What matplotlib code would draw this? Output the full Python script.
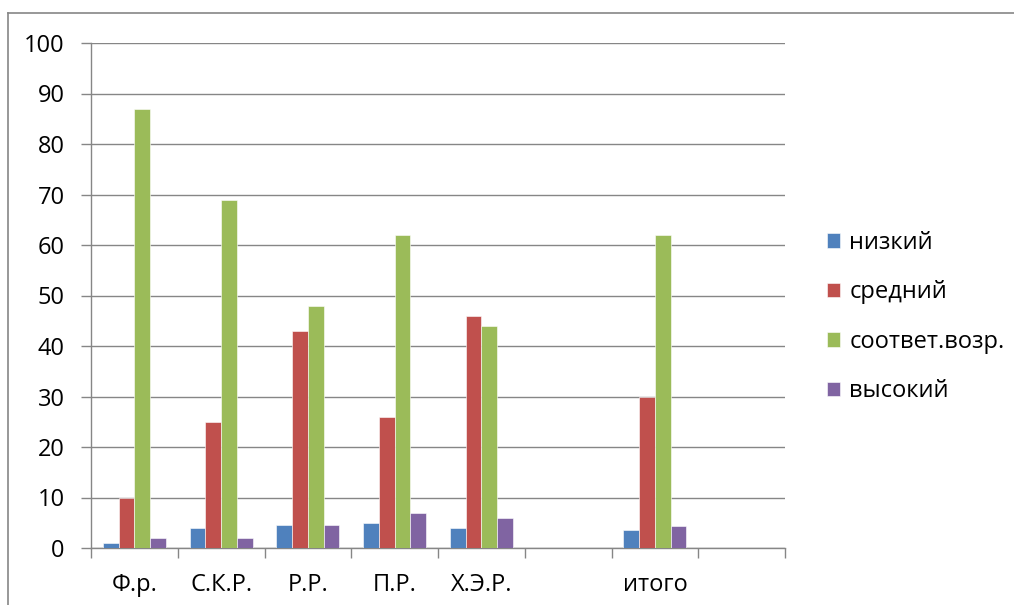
import matplotlib
matplotlib.use("Agg")
import matplotlib.pyplot as plt
import numpy as np
from matplotlib.lines import Line2D

plt.rcParams['font.family'] = ['Open Sans', 'DejaVu Sans']

categories = ["Ф.р.", "С.К.Р.", "Р.Р.", "П.Р.", "Х.Э.Р.", "", "итого", ""]
series_names = ["низкий", "средний", "соответ.возр.", "высокий"]
nizkiy = [1, 4, 4.5, 5, 4, np.nan, 3.6, np.nan]
sredniy = [10, 25, 43, 26, 46, np.nan, 30, np.nan]
sootv = [87, 69, 48, 62, 44, np.nan, 62, np.nan]
vysokiy = [2, 2, 4.5, 7, 6, np.nan, 4.3, np.nan]
yticks = [0, 10, 20, 30, 40, 50, 60, 70, 80, 90, 100]

colors = ["#4F81BD", "#C0504D", "#9BBB59", "#8064A2"]
series = [nizkiy, sredniy, sootv, vysokiy]

fs = 17

fig = plt.figure(figsize=(10.14, 6.05), dpi=100)
ax = fig.add_axes([91/1014, 1-548/605, (785-91)/1014, (548-43)/605])

n = len(categories)
x = np.arange(n) + 0.5
w = 0.182
for k, (vals, c, name) in enumerate(zip(series, colors, series_names)):
    ax.bar(x + (k - 1.5) * w, vals, width=w, color=c, label=name,
           edgecolor='white', linewidth=0.4, zorder=3)

ax.set_xlim(0, n)
ax.set_ylim(0, 100)
ax.set_yticks(yticks)
ax.set_yticklabels([str(t) for t in yticks], fontsize=fs)
ax.yaxis.grid(True, color='#868686', linewidth=1.0, zorder=0)
ax.set_axisbelow(True)

ax.set_xticks(x)
ax.set_xticklabels(categories, fontsize=fs)
ax.set_xticks(np.arange(n + 1), minor=True)
ax.tick_params(axis='x', which='major', length=0, pad=18)
ax.tick_params(axis='x', which='minor', length=7, width=1, color='#868686', direction='out')
ax.tick_params(axis='y', length=7, width=1, color='#868686', direction='out', pad=12)

for s in ['top', 'right']:
    ax.spines[s].set_visible(False)
for s in ['left', 'bottom']:
    ax.spines[s].set_color('#868686')
    ax.spines[s].set_linewidth(1.0)

leg = fig.legend(*ax.get_legend_handles_labels(), loc='center left',
                 bbox_to_anchor=(827/1014, 1-317/605), bbox_transform=fig.transFigure,
                 frameon=False, fontsize=fs, handlelength=0.55, handleheight=0.55,
                 handletextpad=0.4, labelspacing=1.08, borderpad=0, borderaxespad=0)

# chart frame
fig.add_artist(Line2D([8/1014, 1.0], [1-13/605, 1-13/605], transform=fig.transFigure,
                      color='#868686', linewidth=1.2))
fig.add_artist(Line2D([8/1014, 8/1014], [0, 1-13/605], transform=fig.transFigure,
                      color='#868686', linewidth=1.2))

fig.savefig("out.png", dpi=100)
